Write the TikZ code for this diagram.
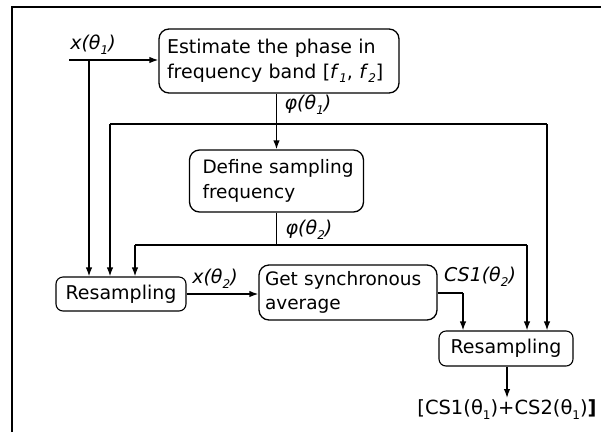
\documentclass[tikz,border=0pt]{standalone}
\usepackage{fontspec}
\setmainfont{DejaVu Sans}
\usetikzlibrary{arrows.meta}
\newcommand{\lowidx}[1]{\raisebox{-0.25em}{\fontsize{12}{12}\selectfont #1}}
\begin{document}
\begin{tikzpicture}[x=1pt,y=-1pt,
  box/.style={draw, rounded corners=10pt, line width=1.3pt, font=\fontsize{19}{24.5}\selectfont, align=left, inner ysep=0pt},
  rbox/.style={draw, rounded corners=7pt, line width=1.1pt, font=\fontsize{19}{22}\selectfont, align=center, inner sep=0pt},
  lab/.style={font=\fontsize{19}{22}\selectfont\itshape, inner sep=1pt},
  arr/.style={line width=1.4pt, -{Latex[length=9pt,width=6.5pt]}},
  ln/.style={line width=1.4pt}]
\useasboundingbox (0,0) rectangle (601,432);
\draw[line width=2pt] (12,432) -- (12,7) -- (601,7);

\node[box, minimum width=240pt, minimum height=64pt, text width=224pt, inner xsep=8pt] (est) at (279,61)
  {\mbox{Estimate the phase in}\\\mbox{frequency band [\textit{f}\lowidx{\itshape 1}, \textit{f}\lowidx{\itshape 2}]}};
\node[box, font=\fontsize{18.5}{24.5}\selectfont, minimum width=174pt, minimum height=62pt, text width=148pt, inner xsep=13pt] (def) at (276.5,181)
  {\mbox{Define sampling}\\\mbox{frequency}};
\node[rbox, minimum width=130pt, minimum height=34pt] (res1) at (121,294) {Resampling};
\node[box, font=\fontsize{18.5}{24.5}\selectfont, minimum width=178pt, minimum height=55pt, text width=166pt, inner xsep=6pt] (avg) at (348,292.5)
  {\mbox{Get synchronous}\\\mbox{average}};
\node[rbox, minimum width=134pt, minimum height=35pt] (res2) at (506,348.5) {Resampling};
\node[font=\fontsize{19.5}{22}\selectfont, inner sep=1pt, anchor=north] (out) at (507,398)
  {[CS1(θ\lowidx{1})+CS2(θ\lowidx{1})\textbf{]}};

\node[lab] (lx1) at (93,45) {x(θ\lowidx{1})};
\node[lab] (lp1) at (308,105) {φ(θ\lowidx{1})};
\node[lab] (lp2) at (309,230) {φ(θ\lowidx{2})};
\node[lab] (lx2) at (215,279) {x(θ\lowidx{2})};
\node[lab] (lcs) at (480,277) {CS1(θ\lowidx{2})};

\coordinate (xin) at (69,60);
\coordinate (j0) at (89,60);
\coordinate (a1) at (110,124);
\coordinate (b1) at (547,124);
\coordinate (a2) at (135,245);
\coordinate (b2) at (527,245);
\coordinate (c) at (463,293);

\draw[arr] (xin) -- (xin -| est.west);
\draw[arr] (j0) -- (j0 |- res1.north);
\draw[arr] (def.north |- est.south) -- (def.north);
\draw[ln] (b1) -- (a1);
\draw[arr] (a1) -- (a1 |- res1.north);
\draw[arr] (b1) -- (b1 |- res2.north);
\draw[ln] (def.south) -- (def.south |- a2);
\draw[ln] (b2) -- (a2);
\draw[arr] (a2) -- (a2 |- res1.north);
\draw[arr] (b2) -- (b2 |- res2.north);
\draw[arr] (res1.east) -- (res1.east -| avg.west);
\draw[ln] (avg.east |- c) -- (c);
\draw[arr] (c) -- (c |- res2.north);
\draw[arr] (res2.south -| out.north) -- (out.north);
\end{tikzpicture}
\end{document}
